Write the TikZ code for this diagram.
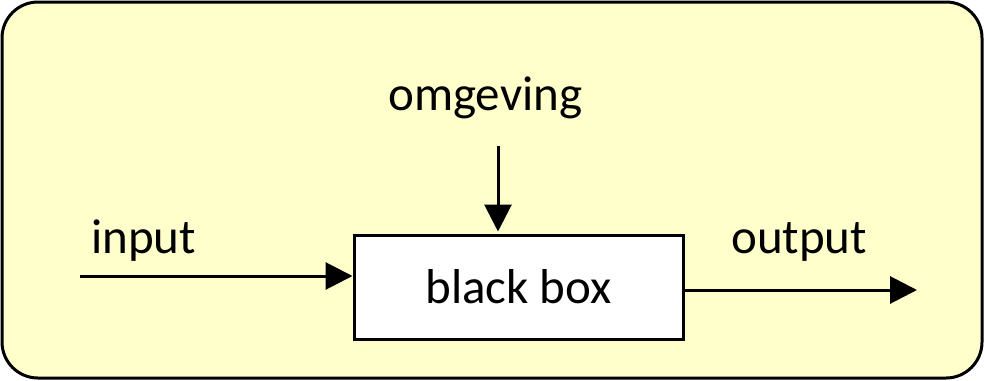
\documentclass[tikz,border=0pt]{standalone}
\usepackage{fontspec}
\setmainfont{Carlito}
\usetikzlibrary{arrows.meta, positioning, calc}
\definecolor{bgyellow}{HTML}{FFFFCC}

\begin{document}
\begin{tikzpicture}[x=1pt, y=-1pt,
    every node/.style={font=\fontsize{49}{58}\selectfont},
    frame/.style={draw, line width=3pt, rounded corners=36pt, fill=bgyellow},
    bbox/.style={draw, line width=3pt, fill=white, minimum width=329pt,
                 minimum height=104pt, inner sep=0pt},
    arr/.style={-{Triangle[length=27pt, width=27pt]}, line width=3pt},
    lbl/.style={anchor=base west, inner sep=0pt}
]
\useasboundingbox (0,0) rectangle (984,380);
\draw[frame] (2,2) rectangle (982,378);

\node[bbox] (box) at (518.5,287) {black box};
\node[lbl]  (inlbl)  at (91,253)  {input};
\node[lbl]  (outlbl) at (731,253) {output};
\node[lbl]  (envlbl) at (388,110) {omgeving};

\coordinate (in)  at (80,276);
\coordinate (out) at (917,290);
\coordinate (env) at (498,146);

\draw[arr] (in) -- (in -| box.west);
\draw[arr] (box.east |- out) -- (out);
\draw[arr] (env) -- ($(env |- box.north)+(0,-2)$);
\end{tikzpicture}
\end{document}
